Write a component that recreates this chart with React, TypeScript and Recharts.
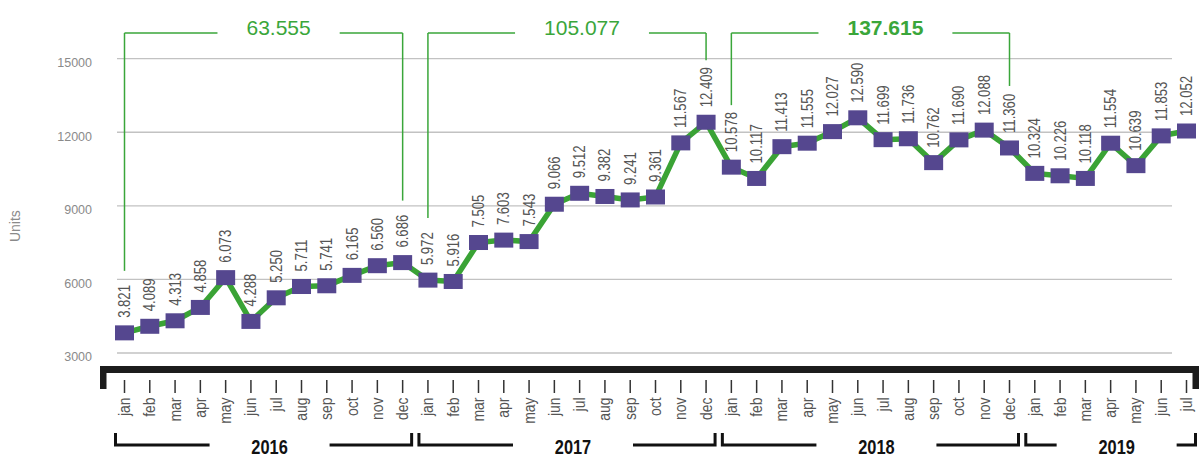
import React from 'react';
import { LineChart, Line, XAxis, YAxis, CartesianGrid, ReferenceLine, LabelList } from 'recharts';

// ---------- data ----------
const YEARS = ['2016', '2017', '2018', '2019'];
const MONTHS = ['jan', 'feb', 'mar', 'apr', 'may', 'jun', 'jul', 'aug', 'sep', 'oct', 'nov', 'dec'];
const UNITS_2016 = [3821, 4089, 4313, 4858, 6073, 4288, 5250, 5711, 5741, 6165, 6560, 6686];
const UNITS_2017 = [5972, 5916, 7505, 7603, 7543, 9066, 9512, 9382, 9241, 9361, 11567, 12409];
const UNITS_2018 = [10578, 10117, 11413, 11555, 12027, 12590, 11699, 11736, 10762, 11690, 12088, 11360];
const UNITS_2019 = [10324, 10226, 10118, 11554, 10639, 11853, 12052];
const Y_TICKS = [3000, 6000, 9000, 12000, 15000];
const TOTAL_YEARS = ['2016', '2017', '2018'];
const BOLD_TOTAL_YEAR = '2018';
const Y_LABEL = 'Units';

const SERIES: Record<string, number[]> = {
  '2016': UNITS_2016,
  '2017': UNITS_2017,
  '2018': UNITS_2018,
  '2019': UNITS_2019,
};

type Row = { key: string; month: string; year: string; v: number; iy: number };
const DATA: Row[] = [];
YEARS.forEach((y) => {
  SERIES[y].forEach((v, i) => {
    DATA.push({ key: `${y}-${MONTHS[i]}`, month: MONTHS[i], year: y, v, iy: i });
  });
});

// ---------- layout ----------
const W = 1201;
const H = 458;
const MARGIN = { top: 58.7, right: 2, bottom: 0.5, left: 0 };
const Y_AXIS_W = 100;
const X_AXIS_H = 88;
const PLOT_W = W - MARGIN.left - Y_AXIS_W - MARGIN.right;
const PAD = { left: 24.5, right: 12.5 };
const STEP = (PLOT_W - PAD.left - PAD.right) / (DATA.length - 1);
const Y_MIN = 2327;
const Y_MAX = 15000;
const PLOT_H = H - MARGIN.top - MARGIN.bottom - X_AXIS_H;
const PX_PER_UNIT = PLOT_H / (Y_MAX - Y_MIN);
const BRACKET_TOP = Y_MAX + 25.7 / PX_PER_UNIT;
const BRACKET_CLEAR = 62 / PX_PER_UNIT;

const GREEN = '#3aa63a';
const LINE_GREEN = '#3aa335';
const PURPLE = '#55478f';
const SANS = "'Liberation Sans', Arial, sans-serif";
const NARROW_SCALE = 0.82;

const fmt = (v: number) => (v / 1000).toFixed(3);

// ---------- renderers ----------
const SquareDot = (props: any) => {
  const { cx, cy, index } = props;
  if (cx == null || cy == null) return <g key={index} />;
  return <rect key={index} x={cx - 9.5} y={cy - 7.5} width={19} height={15} fill={PURPLE} />;
};

const ValueLabel = (props: any) => {
  const x = props.x ?? props.viewBox?.x;
  const y = props.y ?? props.viewBox?.y;
  if (x == null || y == null) return null;
  const bx = x + 5.5;
  const by = y - 15;
  return (
    <text
      x={0}
      y={0}
      transform={`translate(${bx}, ${by}) rotate(-90) scale(${NARROW_SCALE}, 1)`}
      textAnchor="start"
      fontFamily={SANS}
      fontSize={16}
      fill="#555"
    >
      {fmt(Number(props.value))}
    </text>
  );
};

const MonthTick = (props: any) => {
  const { x, y, payload } = props;
  const idx = DATA.findIndex((r) => r.key === payload.value);
  const d = DATA[idx];
  if (!d) return null;
  const lx = x + 5.5;
  const ly = y + 28;
  const parts: React.ReactNode[] = [];
  parts.push(<line key="t" x1={x} x2={x} y1={y + 10.5} y2={y + 23.5} stroke="#333" strokeWidth={1.5} />);
  parts.push(
    <text
      key="m"
      x={0}
      y={0}
      transform={`translate(${lx}, ${ly}) rotate(-90) scale(${NARROW_SCALE}, 1)`}
      textAnchor="end"
      fontFamily={SANS}
      fontSize={17}
      fill="#555"
    >
      {d.month}
    </text>
  );
  if (idx === 0) {
    const ex = x - PAD.left;
    parts.push(<rect key="lc" x={ex} y={y - 3.5} width={6.5} height={23} fill="#1c1c1c" />);
  }
  if (idx === DATA.length - 1) {
    const ex = x + PAD.right;
    parts.push(<rect key="rc" x={ex - 6.5} y={y - 3.5} width={6.5} height={23} fill="#1c1c1c" />);
  }
  if (d.iy === 0) {
    const count = SERIES[d.year].length;
    const left = x - 9;
    const right = x + (count - 1) * STEP + 9;
    const tc = (left + right) / 2 + 6;
    const gl = tc - 60;
    const gr = tc + 60;
    const top = y + 63.5;
    const bot = y + 75.5;
    parts.push(
      <path
        key="yb"
        d={`M${left},${top} V${bot} H${gl} M${gr},${bot} H${right} V${top}`}
        stroke="#111"
        strokeWidth={3}
        fill="none"
      />
    );
    parts.push(
      <text
        key="yt"
        x={0}
        y={0}
        transform={`translate(${tc}, ${y + 84.5}) scale(${NARROW_SCALE}, 1)`}
        textAnchor="middle"
        fontFamily={SANS}
        fontWeight="bold"
        fontSize={20}
        fill="#111"
      >
        {d.year}
      </text>
    );
  }
  return <g>{parts}</g>;
};

const YTick = (props: any) => {
  const { x, y, payload } = props;
  return (
    <text x={x} y={y + 8.5} textAnchor="end" fontFamily={SANS} fontSize={12.5} fill="#8a8a8a">
      {payload.value}
    </text>
  );
};

const makeTotalLabel = (text: string, bold: boolean) => (props: any) => {
  const vb = props.viewBox || {};
  const cx = (vb.x ?? 0) + (vb.width ?? 0) / 2 + 15;
  const cy = vb.y ?? 0;
  const tw = text.length * 11.7;
  return (
    <g>
      <rect x={cx - tw / 2 - 26} y={cy - 6} width={tw + 52} height={12} fill="#fff" />
      <text x={cx} y={cy + 2} textAnchor="middle" fontFamily={SANS} fontSize={21} fontWeight={bold ? 'bold' : 'normal'} fill={GREEN}>
        {text}
      </text>
    </g>
  );
};

export default function App() {
  const brackets: React.ReactNode[] = [];
  TOTAL_YEARS.forEach((yr) => {
    const vals = SERIES[yr];
    const first = `${yr}-${MONTHS[0]}`;
    const last = `${yr}-${MONTHS[vals.length - 1]}`;
    const total = vals.reduce((a, b) => a + b, 0);
    const common = { stroke: GREEN, strokeWidth: 1.5, ifOverflow: 'visible' as const };
    brackets.push(
      <ReferenceLine
        key={`${yr}-l`}
        {...common}
        segment={[{ x: first, y: BRACKET_TOP }, { x: first, y: vals[0] + BRACKET_CLEAR }]}
      />
    );
    brackets.push(
      <ReferenceLine
        key={`${yr}-r`}
        {...common}
        segment={[{ x: last, y: BRACKET_TOP }, { x: last, y: vals[vals.length - 1] + BRACKET_CLEAR }]}
      />
    );
    brackets.push(
      <ReferenceLine
        key={`${yr}-h`}
        {...common}
        segment={[{ x: first, y: BRACKET_TOP }, { x: last, y: BRACKET_TOP }]}
        label={{ content: makeTotalLabel(fmt(total), yr === BOLD_TOTAL_YEAR) }}
      />
    );
  });

  return (
    <div style={{ position: 'absolute', left: 0, top: 0, width: W, height: H, background: '#fff' }}>
      <LineChart width={W} height={H} data={DATA} margin={MARGIN}>
        <CartesianGrid horizontal vertical={false} x={117} width={1055} stroke="#c2c2c2" strokeWidth={1.3} />
        <YAxis
          type="number"
          domain={[Y_MIN, Y_MAX]}
          ticks={Y_TICKS}
          width={Y_AXIS_W}
          axisLine={false}
          tickLine={false}
          tickSize={0}
          tickMargin={8}
          tick={(p: any) => <YTick {...p} />}
          label={{
            content: (p: any) => {
              const vb = p.viewBox || {};
              const lx = (vb.x ?? 0) + 20;
              const ly = (vb.y ?? 0) + (vb.height ?? 0) / 2 + 12;
              return (
                <text x={lx} y={ly} transform={`rotate(-90, ${lx}, ${ly})`} textAnchor="middle" fontFamily={SANS} fontSize={14} fill="#8a8a8a">
                  {Y_LABEL}
                </text>
              );
            },
          }}
        />
        <XAxis
          dataKey="key"
          interval={0}
          height={X_AXIS_H}
          padding={PAD}
          tickSize={0}
          tickMargin={0}
          tickLine={false}
          axisLine={{ stroke: '#1c1c1c', strokeWidth: 7 }}
          tick={(p: any) => <MonthTick {...p} />}
        />
        {brackets}
        <Line
          type="linear"
          dataKey="v"
          stroke={LINE_GREEN}
          strokeWidth={5.5}
          dot={(p: any) => <SquareDot {...p} />}
          activeDot={false}
          isAnimationActive={false}
        >
          <LabelList dataKey="v" content={(p: any) => <ValueLabel {...p} />} />
        </Line>
      </LineChart>
    </div>
  );
}
